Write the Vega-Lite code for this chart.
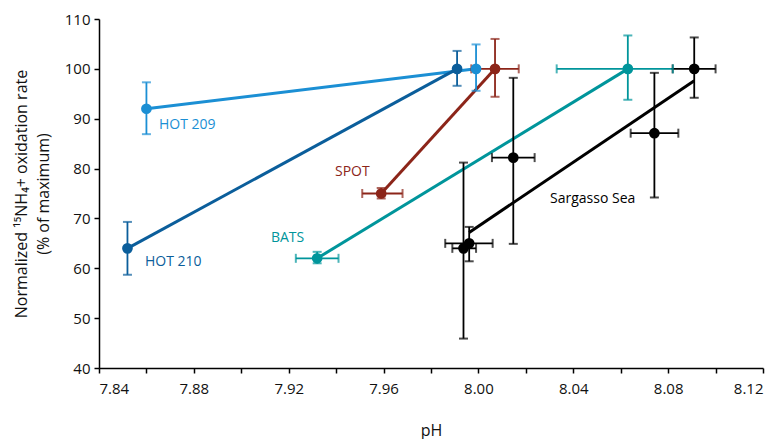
{
  "$schema": "https://vega.github.io/schema/vega-lite/v6.json",
  "width": 664,
  "height": 349,
  "autosize": {"type": "none"},
  "padding": {"left": 99, "top": 19, "right": 12, "bottom": 71},
  "background": "white",
  "config": {
    "view": {"stroke": null},
    "font": "Open Sans",
    "axis": {
      "grid": false,
      "domainColor": "#000000",
      "domainWidth": 1.5,
      "tickColor": "#000000",
      "tickWidth": 1.5,
      "tickSize": 5,
      "labelColor": "#111111",
      "labelFontSize": 15,
      "labelFont": "Open Sans",
      "titleFont": "Open Sans",
      "titleFontSize": 16,
      "titleFontWeight": "normal",
      "titleColor": "#111111"
    }
  },
  "datasets": {
    "pts": [
      {"series": "HOT 209", "ph": 7.860, "rate": 92.0, "ylo": 86.9, "yhi": 97.3, "xlo": null, "xhi": null},
      {"series": "HOT 209", "ph": 7.999, "rate": 100.0, "ylo": 95.6, "yhi": 104.9, "xlo": null, "xhi": null},
      {"series": "HOT 210", "ph": 7.852, "rate": 64.0, "ylo": 58.7, "yhi": 69.3, "xlo": null, "xhi": null},
      {"series": "HOT 210", "ph": 7.991, "rate": 100.0, "ylo": 96.6, "yhi": 103.6, "xlo": null, "xhi": null},
      {"series": "SPOT", "ph": 7.959, "rate": 75.0, "ylo": 74.0, "yhi": 76.1, "xlo": 7.951, "xhi": 7.968},
      {"series": "SPOT", "ph": 8.007, "rate": 100.0, "ylo": 94.4, "yhi": 106.0, "xlo": 7.997, "xhi": 8.017},
      {"series": "BATS", "ph": 7.932, "rate": 62.0, "ylo": 61.0, "yhi": 63.3, "xlo": 7.923, "xhi": 7.941},
      {"series": "BATS", "ph": 8.063, "rate": 100.0, "ylo": 93.8, "yhi": 106.7, "xlo": 8.033, "xhi": 8.082},
      {"series": "Sargasso Sea", "ph": 7.9937, "rate": 64.0, "ylo": 45.9, "yhi": 81.2, "xlo": 7.989, "xhi": 7.999},
      {"series": "Sargasso Sea", "ph": 7.9961, "rate": 65.0, "ylo": 61.4, "yhi": 68.3, "xlo": 7.986, "xhi": 8.006},
      {"series": "Sargasso Sea", "ph": 8.0147, "rate": 82.2, "ylo": 64.9, "yhi": 98.2, "xlo": 8.0057, "xhi": 8.0237},
      {"series": "Sargasso Sea", "ph": 8.0742, "rate": 87.1, "ylo": 74.2, "yhi": 99.2, "xlo": 8.0642, "xhi": 8.0843},
      {"series": "Sargasso Sea", "ph": 8.091, "rate": 100.0, "ylo": 94.2, "yhi": 106.3, "xlo": 8.0819, "xhi": 8.1}
    ],
    "fit": [
      {"series": "Sargasso Sea", "ph": 7.9961, "rate": 67.2},
      {"series": "Sargasso Sea", "ph": 8.091, "rate": 97.6}
    ],
    "labels": [
      {"series": "HOT 209", "ph": 7.8653, "rate": 88.8, "text": "HOT 209"},
      {"series": "HOT 210", "ph": 7.8594, "rate": 61.3, "text": "HOT 210"},
      {"series": "SPOT", "ph": 7.9395, "rate": 79.3, "text": "SPOT"},
      {"series": "BATS", "ph": 7.9125, "rate": 66.1, "text": "BATS"},
      {"series": "Sargasso Sea", "ph": 8.0302, "rate": 73.9, "text": "Sargasso Sea"}
    ]
  },
  "encoding": {
    "x": {
      "field": "ph", "type": "quantitative",
      "scale": {"domain": [7.84, 8.12], "zero": false, "nice": false},
      "axis": {
        "title": "pH",
        "titlePadding": 26,
        "values": [7.84, 7.86, 7.88, 7.90, 7.92, 7.94, 7.96, 7.98, 8.00, 8.02, 8.04, 8.06, 8.08, 8.10, 8.12],
        "labelExpr": "abs(round(datum.value*100)) % 4 == 0 ? format(datum.value, '.2f') : ''",
        "labelPadding": 8
      }
    },
    "y": {
      "field": "rate", "type": "quantitative",
      "scale": {"domain": [40, 110], "zero": false, "nice": false},
      "axis": {
        "title": ["Normalized ¹⁵NH₄+ oxidation rate", "(% of maximum)"],
        "values": [40, 50, 60, 70, 80, 90, 100, 110],
        "titlePadding": 13,
        "titleLineHeight": 22,
        "labelPadding": 4
      }
    },
    "color": {
      "field": "series", "type": "nominal", "legend": null,
      "scale": {
        "domain": ["HOT 209", "HOT 210", "SPOT", "BATS", "Sargasso Sea"],
        "range": ["#1b8fd4", "#0b5e9b", "#8c2519", "#00959b", "#000000"]
      }
    }
  },
  "layer": [
    {
      "data": {"name": "pts"},
      "transform": [{"filter": "datum.series != 'Sargasso Sea'"}],
      "mark": {"type": "line", "strokeWidth": 3},
      "encoding": {"detail": {"field": "series"}}
    },
    {
      "data": {"name": "fit"},
      "mark": {"type": "line", "strokeWidth": 3},
      "encoding": {}
    },
    {
      "data": {"name": "pts"},
      "mark": {"type": "rule", "strokeWidth": 1.8},
      "encoding": {"y": {"field": "ylo", "type": "quantitative"}, "y2": {"field": "yhi"}}
    },
    {
      "data": {"name": "pts"},
      "transform": [{"filter": "isValid(datum.xlo)"}],
      "mark": {"type": "rule", "strokeWidth": 1.8},
      "encoding": {"x": {"field": "xlo", "type": "quantitative"}, "x2": {"field": "xhi"}}
    },
    {
      "data": {"name": "pts"},
      "mark": {"type": "tick", "orient": "horizontal", "size": 9, "thickness": 2},
      "encoding": {"y": {"field": "ylo", "type": "quantitative"}}
    },
    {
      "data": {"name": "pts"},
      "mark": {"type": "tick", "orient": "horizontal", "size": 9, "thickness": 2},
      "encoding": {"y": {"field": "yhi", "type": "quantitative"}}
    },
    {
      "data": {"name": "pts"},
      "transform": [{"filter": "isValid(datum.xlo)"}],
      "mark": {"type": "tick", "orient": "vertical", "size": 9, "thickness": 2},
      "encoding": {"x": {"field": "xlo", "type": "quantitative"}}
    },
    {
      "data": {"name": "pts"},
      "transform": [{"filter": "isValid(datum.xlo)"}],
      "mark": {"type": "tick", "orient": "vertical", "size": 9, "thickness": 2},
      "encoding": {"x": {"field": "xhi", "type": "quantitative"}}
    },
    {
      "data": {"name": "pts"},
      "mark": {"type": "circle", "size": 115, "opacity": 1},
      "encoding": {}
    },
    {
      "data": {"name": "labels"},
      "mark": {"type": "text", "align": "left", "baseline": "middle", "fontSize": 14, "font": "Open Sans"},
      "encoding": {"text": {"field": "text"}}
    }
  ]
}
